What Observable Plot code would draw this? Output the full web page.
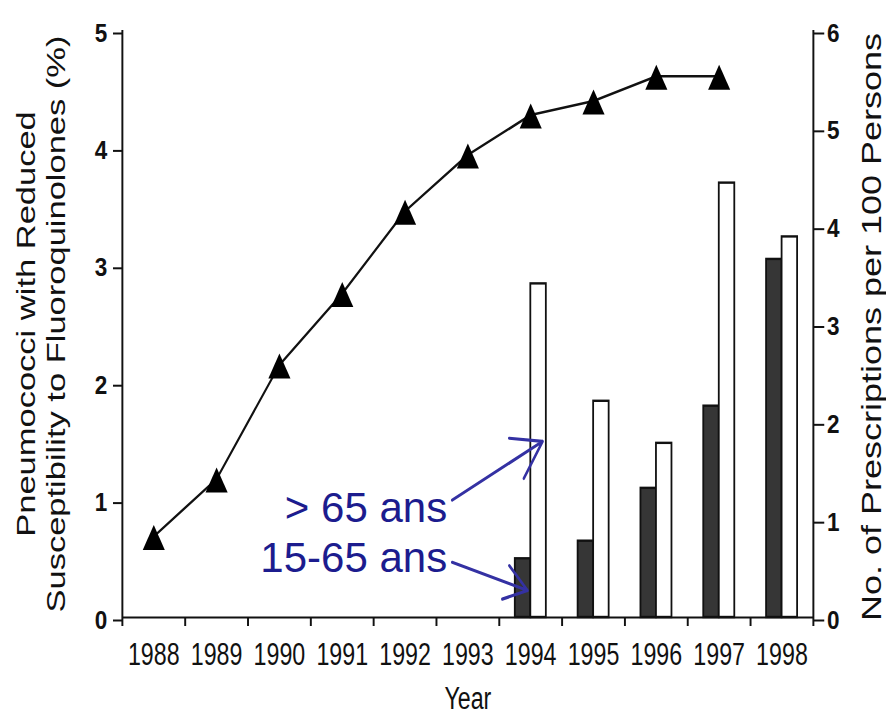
<!DOCTYPE html>
<html>
<head>
<meta charset="utf-8">
<script src="https://cdn.jsdelivr.net/npm/d3@7"></script>
<script src="https://cdn.jsdelivr.net/npm/@observablehq/plot@0.6"></script>
<style>
  html, body { margin: 0; padding: 0; background: #fff; }
  #chart svg { display: block; }
</style>
</head>
<body>
<div id="chart"></div>
<script>
// ---- data ----
const years = [1988, 1989, 1990, 1991, 1992, 1993, 1994, 1995, 1996, 1997, 1998];
const resistYears = [1988, 1989, 1990, 1991, 1992, 1993, 1994, 1995, 1996, 1997];
const resistPct = [0.69, 1.18, 2.15, 2.76, 3.46, 3.94, 4.28, 4.40, 4.61, 4.61];
const barYears = [1994, 1995, 1996, 1997, 1998];
const presc15to65 = [0.60, 0.78, 1.32, 2.16, 3.66];
const prescOver65 = [3.41, 2.21, 1.78, 4.44, 3.89];
const leftTicks = [0, 1, 2, 3, 4, 5];
const rightTicks = [0, 1, 2, 3, 4, 5, 6];
const leftTitle = "Pneumococci with Reduced\nSusceptibility to Fluoroquinolones (%)";
const rightTitle = "No. of Prescriptions per 100 Persons";
const xTitle = "Year";
const annoLabels = ["> 65 ans", "15-65 ans"];
const annoX = [1992.67, 1992.67];
const annoY = [0.93, 0.50];
const arrowFromX = [1992.75, 1992.75];
const arrowFromY = [1.00, 0.47];
const arrowToX = [1994.19, 1993.95];
const arrowToY = [1.50, 0.23];

// ---- tables built from the arrays ----
const K = 5 / 6; // right axis (0..6) mapped onto left axis (0..5)
const resist = resistYears.map((year, i) => ({year, pct: resistPct[i]}));
const bars = barYears.map((year, i) => ({year, young: presc15to65[i], old: prescOver65[i]}));
const boundaries = [...years.map(y => y - 0.5), years[years.length - 1] + 0.5];
const annos = annoLabels.map((label, i) => ({label, x: annoX[i], y: annoY[i]}));
const arrows = arrowFromX.map((x1, i) => ({x1, y1: arrowFromY[i], x2: arrowToX[i], y2: arrowToY[i]}));

const S = 0.75;           // horizontal compression of the original figure
const W = 886 / S;
const BAR = 0.247;        // bar width in years

const tri = {
  draw(ctx) {
    const w = 29.5, h = 25;
    ctx.moveTo(0, -0.46 * h);
    ctx.lineTo(w / 2, 0.54 * h);
    ctx.lineTo(-w / 2, 0.54 * h);
    ctx.closePath();
  }
};

const svg = Plot.plot({
  width: W,
  height: 719,
  marginLeft: 122 / S,
  marginRight: 73 / S,
  marginTop: 30,
  marginBottom: 102,
  x: {type: "linear", domain: [d3.min(boundaries), d3.max(boundaries)]},
  y: {domain: [0, 5]},
  style: {fontFamily: "'Liberation Sans', Arial, Helvetica, sans-serif", color: "#111", background: "#fff"},
  marks: [
    // bars (right axis units)
    Plot.rectY(bars, {x1: d => d.year - BAR, x2: d => d.year, y1: 0, y2: d => d.young * K,
      fill: "#363636", stroke: "#111", strokeWidth: 2.4}),
    Plot.rectY(bars, {x1: d => d.year, x2: d => d.year + BAR, y1: 0, y2: d => d.old * K,
      fill: "#fff", stroke: "#111", strokeWidth: 2.4}),
    // axis lines
    Plot.ruleY([0], {stroke: "#111", strokeWidth: 2}),
    Plot.ruleX([d3.min(boundaries), d3.max(boundaries)], {y1: 0, y2: 5, stroke: "#111", strokeWidth: 2.6}),
    // x axis: boundary ticks + centred year labels
    Plot.axisX({ticks: boundaries, tickSize: 9, tickFormat: () => "", strokeWidth: 2.6, label: null}),
    Plot.axisX({ticks: years, tickSize: 0, tickPadding: 25, fontSize: 31, tickFormat: d => String(d), label: null}),
    // left axis
    Plot.axisY({anchor: "left", ticks: leftTicks, tickSize: 12, tickPadding: 8, fontSize: 25,
      fontWeight: "bold", strokeWidth: 2, dy: 3, tickFormat: d => String(d), label: null}),
    // right axis
    Plot.axisY({anchor: "right", ticks: rightTicks.map(v => v * K), tickSize: 14, tickPadding: 4, fontSize: 25,
      fontWeight: "bold", strokeWidth: 2, dy: 3, tickFormat: d => String(Math.round(d / K)), label: null}),
    // resistance line with triangles
    Plot.line(resist, {x: "year", y: "pct", stroke: "#111", strokeWidth: 2.6}),
    Plot.dot(resist, {x: "year", y: "pct", symbol: tri, fill: "#000", stroke: null}),
    // titles
    Plot.text([leftTitle], {text: d => d, frameAnchor: "left", textAnchor: "middle", lineAnchor: "middle",
      rotate: -90, dx: -109.4, fontSize: 34.5, lineHeight: 1.16, fill: "#111"}),
    Plot.text([rightTitle], {text: d => d, frameAnchor: "right", textAnchor: "middle", lineAnchor: "middle",
      rotate: -90, dx: 78.7, dy: 3, fontSize: 36, fill: "#111"}),
    Plot.text([xTitle], {text: d => d, frameAnchor: "bottom", lineAnchor: "middle", dy: 82, fontSize: 31, fill: "#111"}),
    // annotations
    Plot.arrow(arrows, {x1: "x1", y1: "y1", x2: "x2", y2: "y2", stroke: "#3431a3", strokeWidth: 3.2,
      headLength: 22, headAngle: 60}),
    Plot.text(annos, {x: "x", y: "y", text: "label", textAnchor: "end", fontSize: 42, fill: "#1c1c8e"})
  ]
});

svg.setAttribute("width", 886);
svg.setAttribute("height", 719);
svg.setAttribute("preserveAspectRatio", "none");
svg.style.width = "886px";
svg.style.height = "719px";
svg.style.maxWidth = "none";

// widen selected texts horizontally about their anchor
function widen(filterFn, k) {
  d3.select(svg).selectAll("text").filter(filterFn).each(function() {
    const t = this.getAttribute("transform");
    if (t && /translate/.test(t) && !this.hasAttribute("x")) {
      this.setAttribute("transform", t + ` scale(${k},1)`);
    } else {
      const x = +this.getAttribute("x") || 0, y = +this.getAttribute("y") || 0;
      this.removeAttribute("x"); this.removeAttribute("y");
      this.setAttribute("transform", (t ? t + " " : "") + `translate(${x},${y}) scale(${k},1)`);
    }
  });
}
// annotation text was added unstretched: undo the compression for it
widen(function() { return annoLabels.includes(this.textContent); }, 1 / S);
// single-digit axis labels are a little wider in the original
widen(function() { return /^\d$/.test(this.textContent); }, 1.2);

document.getElementById("chart").appendChild(svg);
</script>
</body>
</html>
